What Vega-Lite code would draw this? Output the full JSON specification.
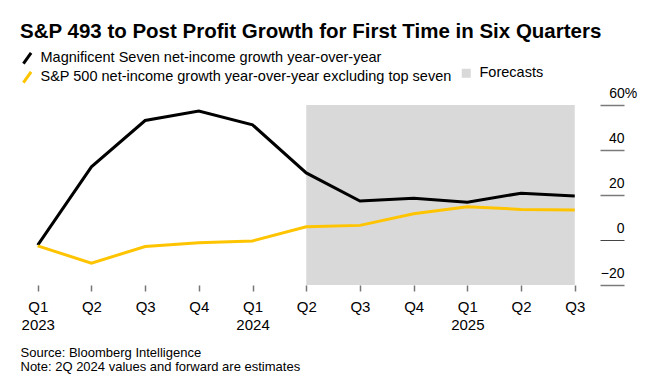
{
  "$schema": "https://vega.github.io/schema/vega-lite/v6.json",
  "width": 580,
  "height": 180,
  "autosize": "none",
  "padding": {"left": 20, "top": 105, "right": 56, "bottom": 101},
  "background": "#ffffff",
  "title": {
    "text": "S&P 493 to Post Profit Growth for First Time in Six Quarters",
    "anchor": "start",
    "frame": "group",
    "font": "Liberation Sans",
    "fontSize": 20.5,
    "fontWeight": "bold",
    "color": "#000000",
    "offset": 9
  },
  "config": {
    "view": {"stroke": null},
    "font": "Liberation Sans",
    "legend": {"padding": 0}
  },
  "datasets": {
    "growth": [
      {"t": 0, "quarter": "Q1 2023", "series": "Magnificent Seven net-income growth year-over-year", "value": -2.3},
      {"t": 1, "quarter": "Q2 2023", "series": "Magnificent Seven net-income growth year-over-year", "value": 32.5},
      {"t": 2, "quarter": "Q3 2023", "series": "Magnificent Seven net-income growth year-over-year", "value": 53.1},
      {"t": 3, "quarter": "Q4 2023", "series": "Magnificent Seven net-income growth year-over-year", "value": 57.3},
      {"t": 4, "quarter": "Q1 2024", "series": "Magnificent Seven net-income growth year-over-year", "value": 51.2},
      {"t": 5, "quarter": "Q2 2024", "series": "Magnificent Seven net-income growth year-over-year", "value": 29.8},
      {"t": 6, "quarter": "Q3 2024", "series": "Magnificent Seven net-income growth year-over-year", "value": 17.3},
      {"t": 7, "quarter": "Q4 2024", "series": "Magnificent Seven net-income growth year-over-year", "value": 18.6},
      {"t": 8, "quarter": "Q1 2025", "series": "Magnificent Seven net-income growth year-over-year", "value": 16.8},
      {"t": 9, "quarter": "Q2 2025", "series": "Magnificent Seven net-income growth year-over-year", "value": 20.8},
      {"t": 10, "quarter": "Q3 2025", "series": "Magnificent Seven net-income growth year-over-year", "value": 19.6},
      {"t": 0, "quarter": "Q1 2023", "series": "S&P 500 net-income growth year-over-year excluding top seven", "value": -2.6},
      {"t": 1, "quarter": "Q2 2023", "series": "S&P 500 net-income growth year-over-year excluding top seven", "value": -10.3},
      {"t": 2, "quarter": "Q3 2023", "series": "S&P 500 net-income growth year-over-year excluding top seven", "value": -2.9},
      {"t": 3, "quarter": "Q4 2023", "series": "S&P 500 net-income growth year-over-year excluding top seven", "value": -1.2},
      {"t": 4, "quarter": "Q1 2024", "series": "S&P 500 net-income growth year-over-year excluding top seven", "value": -0.4},
      {"t": 5, "quarter": "Q2 2024", "series": "S&P 500 net-income growth year-over-year excluding top seven", "value": 5.9},
      {"t": 6, "quarter": "Q3 2024", "series": "S&P 500 net-income growth year-over-year excluding top seven", "value": 6.5},
      {"t": 7, "quarter": "Q4 2024", "series": "S&P 500 net-income growth year-over-year excluding top seven", "value": 11.7},
      {"t": 8, "quarter": "Q1 2025", "series": "S&P 500 net-income growth year-over-year excluding top seven", "value": 14.8},
      {"t": 9, "quarter": "Q2 2025", "series": "S&P 500 net-income growth year-over-year excluding top seven", "value": 13.6},
      {"t": 10, "quarter": "Q3 2025", "series": "S&P 500 net-income growth year-over-year excluding top seven", "value": 13.3}
    ],
    "forecast": [
      {"start": 5, "end": 10, "label": "Forecasts"}
    ]
  },
  "layer": [
    {
      "data": {"name": "forecast"},
      "mark": {"type": "rect"},
      "encoding": {
        "x": {
          "field": "start",
          "type": "quantitative",
          "scale": {"domain": [-0.33, 10.47], "nice": false, "zero": false},
          "axis": {
            "orient": "bottom",
            "values": [0, 1, 2, 3, 4, 5, 6, 7, 8, 9, 10],
            "labelExpr": "datum.value % 4 == 0 ? ['Q1', '' + (2023 + datum.value / 4)] : 'Q' + (datum.value % 4 + 1)",
            "domain": false,
            "grid": false,
            "ticks": true,
            "tickSize": 6,
            "tickColor": "#777777",
            "tickWidth": 1.5,
            "labelFont": "Liberation Sans",
            "labelFontSize": 15,
            "labelColor": "#000000",
            "labelAlign": "center",
            "labelBaseline": "top",
            "labelPadding": 8,
            "labelLineHeight": 18,
            "labelFlush": false,
            "labelOverlap": false,
            "title": ["Source: Bloomberg Intelligence", "Note: 2Q 2024 values and forward are estimates"],
            "titleFont": "Liberation Sans",
            "titleFontSize": 13,
            "titleFontWeight": "normal",
            "titleColor": "#000000",
            "titleX": 0,
            "titleY": 71.7,
            "titleAlign": "left",
            "titleAnchor": "start",
            "titleBaseline": "alphabetic",
            "titleLineHeight": 14
          }
        },
        "x2": {"field": "end"},
        "y": {
          "datum": -20,
          "type": "quantitative",
          "scale": {"domain": [-20, 60], "nice": false, "zero": false},
          "axis": {
            "orient": "right",
            "values": [-20, 0, 20, 40, 60],
            "labelExpr": "datum.value == 60 ? '60%' : datum.label",
            "domain": false,
            "grid": false,
            "ticks": true,
            "tickSize": 24,
            "tickColor": {"condition": {"test": "datum.value == 0", "value": "#444444"}, "value": "#7a7a7a"},
            "tickWidth": {"condition": {"test": "datum.value == 0", "value": 1}, "value": 1.5},
            "labelFont": "Liberation Sans",
            "labelFontSize": 14,
            "labelColor": "#000000",
            "labelAlign": "right",
            "labelBaseline": "alphabetic",
            "labelOffset": -8,
            "labelPadding": {"condition": {"test": "datum.value == 60", "value": 12.7}, "value": 0},
            "labelFlush": false,
            "labelOverlap": false,
            "labelBound": false,
            "title": null
          }
        },
        "y2": {"datum": 60},
        "fill": {
          "field": "label",
          "type": "nominal",
          "scale": {"range": ["#d9d9d9"]},
          "legend": {
            "title": null,
            "orient": "none",
            "legendX": 439,
            "legendY": -39,
            "symbolType": "square",
            "symbolSize": 81,
            "symbolStrokeWidth": 0,
            "labelFont": "Liberation Sans",
            "labelFontSize": 14.5,
            "labelColor": "#000000",
            "labelOffset": 6
          }
        }
      }
    },
    {
      "mark": {"type": "rule", "color": "#444444", "strokeWidth": 1},
      "encoding": {"y": {"datum": 0, "type": "quantitative"}}
    },
    {
      "data": {"name": "growth"},
      "mark": {"type": "line", "strokeWidth": 3, "strokeJoin": "miter"},
      "encoding": {
        "x": {"field": "t", "type": "quantitative"},
        "y": {"field": "value", "type": "quantitative"},
        "stroke": {
          "field": "series",
          "type": "nominal",
          "scale": {
            "domain": ["Magnificent Seven net-income growth year-over-year", "S&P 500 net-income growth year-over-year excluding top seven"],
            "range": ["#000000", "#ffc400"]
          },
          "legend": {
            "title": null,
            "orient": "none",
            "legendX": 0,
            "legendY": -54,
            "direction": "vertical",
            "symbolType": "M-0.7,1L0.7,-1",
            "symbolSize": 120,
            "symbolStrokeWidth": 3,
            "labelFont": "Liberation Sans",
            "labelFontSize": 14.5,
            "labelColor": "#000000",
            "labelOffset": 6,
            "labelLimit": 600,
            "rowPadding": -8
          }
        }
      }
    }
  ]
}
